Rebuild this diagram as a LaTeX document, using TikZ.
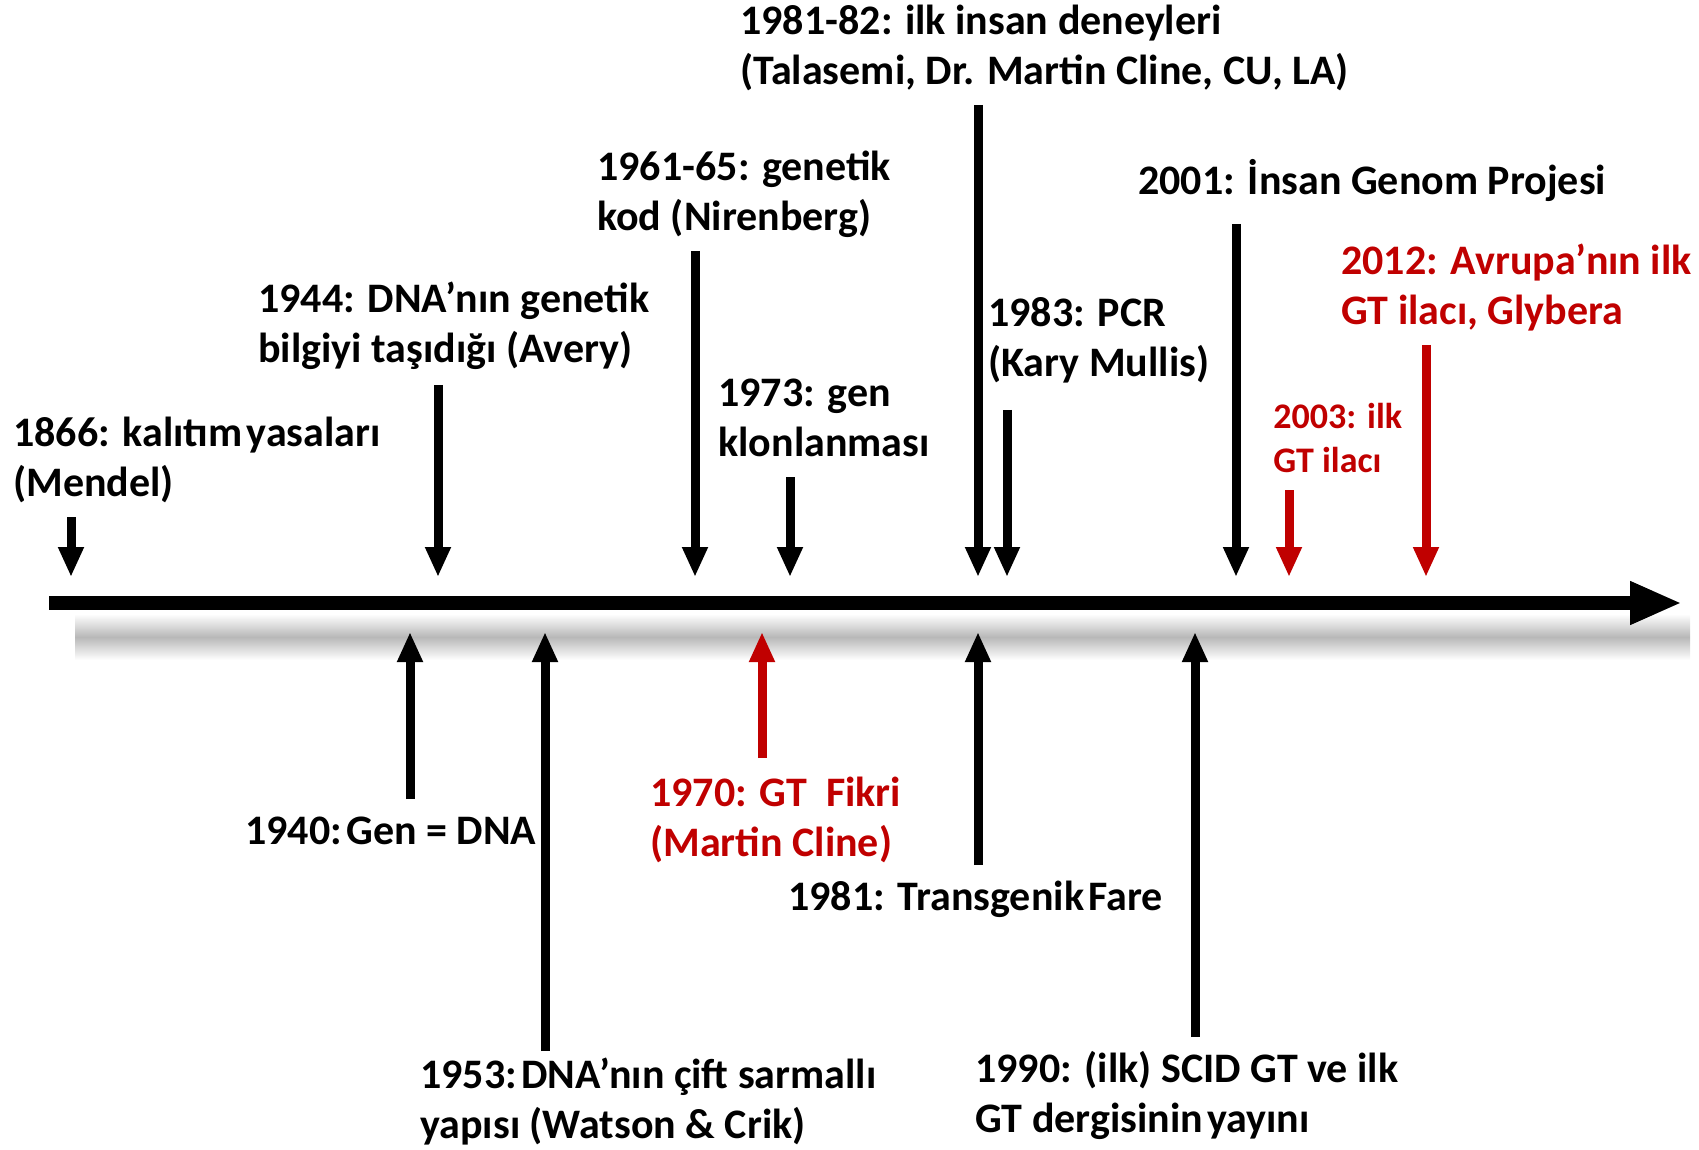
\documentclass[tikz,border=0pt]{standalone}
\usepackage{fontspec}
\setmainfont{Carlito}
\usetikzlibrary{arrows.meta}
\definecolor{gtred}{RGB}{192,0,0}

\begin{document}
\begin{tikzpicture}[x=0.5pt, y=-0.5pt,
    lbl/.style={anchor=west, align=left, inner sep=0pt, font=\fontsize{21}{25}\selectfont\bfseries},
    lblsmall/.style={lbl, font=\fontsize{18}{22}\selectfont\bfseries},
    evt/.style={line width=4.5pt, -{Triangle[width=12pt, length=15pt]}},
    timeaxis/.style={line width=7pt, -{Triangle[width=20pt, length=26pt]}}]
    \useasboundingbox (0,0) rectangle (1699,1150);
    \shade[top color=white, bottom color=white, middle color=black!28] (75,614) rectangle (1690,660);

    \coordinate (ax0) at (49,603);
    \coordinate (ax1) at (1682,603);
    \draw[timeaxis] (ax0) -- (ax1);

    \node[lbl] (l1866) at (13,460) {1866: kalıtım\hspace{0.1em}yasaları\\(Mendel)};
    \node[lbl] (l1944) at (258,326) {1944: DNA’nın genetik\\bilgiyi taşıdığı (Avery)};
    \node[lbl] (l1961) at (597,194) {1961-65: genetik\\kod (Nirenberg)};
    \node[lbl] (l1973) at (718,418) {1973: gen\\klonlanması};
    \node[lbl] (l1981a) at (740,48) {1981-82: ilk insan deneyleri\\(Talasemi, Dr. Martin Cline, CU, LA)};
    \node[lbl] (l1983) at (988,340) {1983: PCR\\(Kary Mullis)};
    \node[lbl] (l2001) at (1138,180) {2001: İnsan Genom Projesi};
    \node[lblsmall, text=gtred] (l2003) at (1273,438) {2003: ilk\\GT ilacı};
    \node[lbl, text=gtred] (l2012) at (1341,288) {2012: Avrupa’nın ilk\\GT ilacı, Glybera};

    \node[lbl] (l1940) at (245,831) {1940:\hspace{0.1em}Gen = DNA};
    \node[lbl] (l1953) at (420,1102) {1953:\hspace{0.1em}DNA’nın çift sarmallı\\yapısı (Watson \& Crik)};
    \node[lbl, text=gtred] (l1970) at (650,820) {1970: GT~~Fikri\\(Martin Cline)};
    \node[lbl] (l1981b) at (788,899) {1981: Transgenik\hspace{0.1em}Fare};
    \node[lbl] (l1990) at (975,1095) {1990: (ilk) SCID GT ve ilk\\GT dergisinin\hspace{0.1em}yayını};

    \coordinate (s1866) at (71,517);   \coordinate (t1866) at (71,577);
    \coordinate (s1944) at (438,385);  \coordinate (t1944) at (438,577);
    \coordinate (s1961) at (695,251);  \coordinate (t1961) at (695,577);
    \coordinate (s1973) at (790,477);  \coordinate (t1973) at (790,577);
    \coordinate (s1981a) at (978,105); \coordinate (t1981a) at (978,577);
    \coordinate (s1983) at (1007,410); \coordinate (t1983) at (1007,577);
    \coordinate (s2001) at (1236,224); \coordinate (t2001) at (1236,577);
    \coordinate (s2003) at (1289,490); \coordinate (t2003) at (1289,577);
    \coordinate (s2012) at (1426,345); \coordinate (t2012) at (1426,577);

    \coordinate (s1940) at (410,799);  \coordinate (t1940) at (410,632);
    \coordinate (s1953) at (545,1051); \coordinate (t1953) at (545,632);
    \coordinate (s1970) at (762,758);  \coordinate (t1970) at (762,632);
    \coordinate (s1981b) at (978,865); \coordinate (t1981b) at (978,632);
    \coordinate (s1990) at (1195,1037);\coordinate (t1990) at (1195,632);

    \draw[evt] (s1866) -- (t1866);
    \draw[evt] (s1944) -- (t1944);
    \draw[evt] (s1961) -- (t1961);
    \draw[evt] (s1973) -- (t1973);
    \draw[evt] (s1981a) -- (t1981a);
    \draw[evt] (s1983) -- (t1983);
    \draw[evt] (s2001) -- (t2001);
    \draw[evt, gtred] (s2003) -- (t2003);
    \draw[evt, gtred] (s2012) -- (t2012);

    \draw[evt] (s1940) -- (t1940);
    \draw[evt] (s1953) -- (t1953);
    \draw[evt, gtred] (s1970) -- (t1970);
    \draw[evt] (s1981b) -- (t1981b);
    \draw[evt] (s1990) -- (t1990);
\end{tikzpicture}
\end{document}
